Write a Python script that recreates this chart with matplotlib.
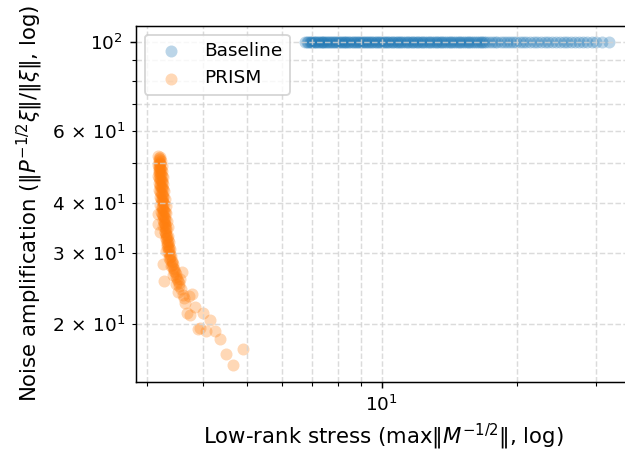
import matplotlib
matplotlib.use("Agg")
import matplotlib.pyplot as plt
from matplotlib.ticker import FuncFormatter
import math

# Baseline: noise amplification stays at 100 over the whole stress range
baseline_x = [
    6.75, 6.8, 6.85, 6.9, 6.95, 7.0, 7.05, 7.1, 7.15, 7.2, 7.25, 7.3, 7.35, 7.4,
    7.45, 7.5, 7.56, 7.62, 7.68, 7.74, 7.8, 7.86, 7.92, 7.98, 8.04, 8.1, 8.16,
    8.22, 8.28, 8.34, 8.4, 8.47, 8.54, 8.61, 8.68, 8.75, 8.82, 8.89, 8.96, 9.03,
    9.1, 9.17, 9.24, 9.31, 9.38, 9.45, 9.53, 9.61, 9.69, 9.77, 9.85, 9.93, 10.01,
    10.09, 10.17, 10.25, 10.34, 10.43, 10.52, 10.61, 10.7, 10.79, 10.88, 10.97,
    11.06, 11.15, 11.25, 11.35, 11.45, 11.55, 11.65, 11.75, 11.85, 11.95, 12.05,
    12.16, 12.27, 12.38, 12.49, 12.6, 12.71, 12.82, 12.93, 13.05, 13.17, 13.29,
    13.41, 13.53, 13.65, 13.77, 13.9, 14.03, 14.16, 14.29, 14.42, 14.55, 14.68,
    14.82, 14.96, 15.1, 15.24, 15.38, 15.52, 15.67, 15.82, 15.97, 16.12, 16.27,
    16.43, 16.59, 16.75, 16.92, 17.1, 17.35, 17.6, 17.85, 18.1, 18.4, 18.7, 19.0,
    19.3, 19.6, 19.95, 20.3, 20.65, 21.0, 21.4, 21.8, 22.2, 22.6, 23.05, 23.5,
    23.95, 24.4, 24.9, 25.4, 25.9, 26.4, 26.95, 27.5, 28.1, 28.7, 29.35, 30.0,
    30.9, 32.1,
]
baseline_y = [100.0] * len(baseline_x)

# PRISM: dense band on the left, a tail of scattered runs to the lower right
prism_x = [
    3.17, 3.19, 3.21, 3.18, 3.20, 3.22, 3.17, 3.19, 3.21, 3.23, 3.18, 3.20, 3.22,
    3.24, 3.17, 3.19, 3.21, 3.23, 3.25, 3.18, 3.20, 3.22, 3.24, 3.26, 3.19, 3.21,
    3.23, 3.25, 3.27, 3.20, 3.22, 3.24, 3.26, 3.28, 3.21, 3.23, 3.25, 3.27, 3.30,
    3.22, 3.24, 3.26, 3.28, 3.31, 3.25, 3.27, 3.29, 3.32, 3.26, 3.28, 3.30, 3.33,
    3.29, 3.31, 3.34, 3.30, 3.33, 3.35, 3.32, 3.35, 3.37, 3.34, 3.37, 3.39, 3.36,
    3.40, 3.42, 3.39, 3.44, 3.46, 3.42, 3.48, 3.51, 3.47, 3.54, 3.57, 3.52, 3.60,
    3.63,
    3.18, 3.20, 3.19, 3.21, 3.18, 3.20, 3.22, 3.19, 3.21, 3.23, 3.20, 3.22, 3.24,
    3.21, 3.23, 3.25, 3.22, 3.24, 3.26, 3.23, 3.25, 3.27, 3.24, 3.26, 3.28, 3.25,
    3.27, 3.29, 3.27, 3.29, 3.31, 3.28, 3.30, 3.32, 3.30, 3.32, 3.34, 3.32, 3.34,
    3.36, 3.35, 3.37, 3.38, 3.40, 3.41, 3.43, 3.45, 3.47, 3.50, 3.53,
    3.17, 3.17, 3.21, 3.31, 3.26, 3.27, 3.58, 3.77, 3.83, 3.68, 3.74, 3.99, 4.14,
    3.89, 3.93, 4.06, 4.25, 4.35, 4.49, 4.66, 4.90, 3.55, 3.65, 3.72,
]
prism_y = [
    52.0, 51.5, 51.8, 50.5, 50.0, 50.8, 49.5, 49.0, 48.6, 49.3, 48.0, 47.5, 47.0,
    47.8, 46.5, 46.0, 45.6, 45.2, 46.3, 44.8, 44.3, 43.8, 43.4, 44.5, 42.9, 42.4,
    42.0, 41.6, 42.6, 41.2, 40.8, 40.3, 39.9, 40.9, 39.5, 39.0, 38.6, 38.2, 39.2,
    37.8, 37.4, 37.0, 36.6, 37.6, 36.2, 35.8, 35.4, 35.9, 35.0, 34.6, 34.2, 34.7,
    33.8, 33.3, 33.0, 32.7, 32.3, 31.9, 31.5, 31.1, 30.7, 30.3, 29.9, 29.5, 29.1,
    28.7, 28.2, 27.8, 27.4, 26.9, 26.5, 26.1, 25.6, 25.2, 24.8, 24.4, 24.0, 23.6,
    23.2,
    51.0, 51.2, 49.8, 49.9, 48.3, 48.8, 48.2, 47.2, 46.8, 46.5, 45.9, 45.4, 44.9,
    44.0, 43.6, 43.1, 42.2, 41.9, 41.3, 40.5, 40.1, 39.6, 38.8, 38.4, 37.9, 37.2,
    36.8, 36.3, 35.6, 35.1, 34.5, 33.9, 33.5, 32.9, 32.5, 32.0, 31.6, 31.2, 30.8,
    30.5, 29.8, 29.4, 28.9, 28.5, 28.0, 27.6, 27.1, 26.6, 25.9, 25.3,
    37.5, 35.4, 33.8, 30.4, 28.2, 25.5, 26.9, 23.8, 22.1, 21.3, 21.1, 21.3, 20.5,
    19.5, 19.6, 19.2, 19.2, 18.4, 16.9, 15.8, 17.4, 25.9, 22.6, 23.5,
]

MINOR_LABELS = (2, 3, 4, 6)


def minor_fmt(v, pos):
    """ label only some minor ticks, with a bit of room around the times sign """
    e = int(math.floor(math.log10(v) + 1e-9))
    c = int(round(v / 10 ** e))
    if c in MINOR_LABELS:
        return r"$\mathdefault{%d\,\times\,10^{%d}}$" % (c, e)
    return ""


DPI = 133.333
fig = plt.figure(figsize=(625 / DPI, 471 / DPI), dpi=DPI)
ax = fig.add_axes([0.2168, 0.1895, 0.7936, 0.7563])

ax.scatter(baseline_x, baseline_y, s=42, alpha=0.3, color="C0", linewidths=0, label="Baseline")
ax.scatter(prism_x, prism_y, s=42, alpha=0.3, color="C1", linewidths=0, label="PRISM")

ax.set_xscale("log")
ax.set_yscale("log")
ax.set_xlim(2.825, 36.0)
ax.set_ylim(14.4, 109.7)
ax.yaxis.set_minor_formatter(FuncFormatter(minor_fmt))

ax.grid(True, which="both", linestyle="--", color="lightgray", alpha=0.8)
ax.set_xlabel(r"Low-rank stress ($\max\|M^{-1/2}\|$, log)", fontsize=11.5)
ax.set_ylabel(r"Noise amplification ($\|P^{-1/2}\xi\|/\|\xi\|$, log)", fontsize=11.5)
ax.legend(loc="upper left")

fig.savefig("out.png", dpi=DPI)
